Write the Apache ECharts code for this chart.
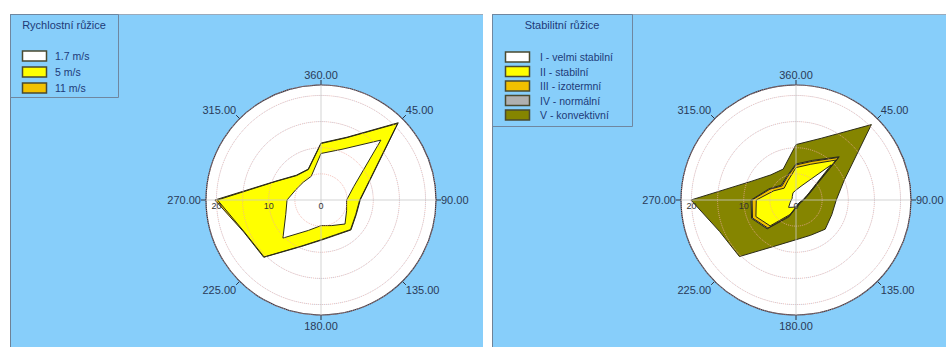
<!DOCTYPE html>
<html><head><meta charset="utf-8">
<script src="https://cdn.jsdelivr.net/npm/echarts@6/dist/echarts.min.js"></script>
<style>
html,body{margin:0;padding:0;background:#fff;width:946px;height:347px;overflow:hidden}
.panel{position:absolute;background:#87CEFA;box-sizing:border-box;border-left:1px solid #6f8296;border-top:1px solid #9aaabb}
#p1{left:10px;top:14px;width:473px;height:333px}
#p2{left:492px;top:14px;width:454px;height:333px}
#chart{position:absolute;left:0;top:0;width:946px;height:347px}
</style></head><body>
<div class="panel" id="p1"></div><div class="panel" id="p2"></div>
<div id="chart"></div>
<script>
// ---- data ----
const directions = [0,22.5,45,67.5,90,112.5,135,157.5,180,202.5,225,247.5,270,292.5,315,337.5];
const angleTickLabels = ['360.00','45.00','90.00','135.00','180.00','225.00','270.00','315.00'];
const radiusTickLabels = ['0','10','20'];

const speedTitle = 'Rychlostní růžice';
const speedNames = ['1.7 m/s','5 m/s','11 m/s'];
const speed17 = [8.9,10.5,16.2,6.8,4.9,5.3,6.5,5.3,4.9,6.3,10.3,7.3,6.5,5.2,4.8,4.9];
const speed5  = [10.8,12.9,20.7,10.1,7.4,7.2,8.0,7.2,7.6,9.5,15.4,15.9,19.8,9.3,6.6,6.3];
const speed11 = [10.9,13.0,20.9,10.2,7.5,7.3,8.1,7.3,7.7,9.6,15.5,16.0,20.3,9.4,6.7,6.4];

const stabTitle = 'Stabilitní růžice';
const stabNames = ['I - velmi stabilní','II - stabilní','III - izotermní','IV - normální','V - konvektivní'];
const stabI   = [1.9,3.0,9.5,2.3,1.3,0.9,0.8,0.9,1.3,1.5,2.0,1.2,0.9,0.8,1.0,1.5];
const stabII  = [6.2,7.4,10.8,2.35,1.35,0.95,0.85,1.05,1.35,3.0,7.0,8.3,7.6,4.6,3.2,4.0];
const stabIII = [6.7,8.0,11.5,2.4,1.4,1.0,0.9,1.1,1.4,3.3,7.6,9.0,8.4,5.4,3.8,4.6];
const stabIV  = [6.9,8.2,11.7,2.6,1.5,1.1,1.0,1.2,1.5,3.5,7.8,9.2,8.6,5.6,4.0,4.8];
const stabV   = [10.6,12.8,20.4,10.0,7.7,7.4,7.9,7.3,7.6,9.4,15.3,15.8,20.1,9.3,6.8,6.4];

// ---- styles ----
const FONT = 'Liberation Sans, Arial, sans-serif';
const speedColors = ['#ffffff','#ffff00','#f2c200'];
const stabColors = ['#ffffff','#ffff00','#f0c000','#b0b0b0','#858500'];
const RMAX = 22;
const centers = [[321,200],[796,200]];
const R = 115;

function closed(vals){
  const d = directions.map((a,i)=>[vals[i], a]);
  d.push([vals[0], 360]);
  return d;
}
function mkSeries(vals, color, polarIndex, name){
  return {type:'line', name, coordinateSystem:'polar', polarIndex, data:closed(vals),
    symbol:'none', silent:true, animation:false, z:2,
    lineStyle:{color:'#2b2b18', width:1},
    itemStyle:{color}, areaStyle:{color, opacity:1}};
}

const polar = [], angleAxis = [], radiusAxis = [];
centers.forEach((c,k)=>{
  polar.push({center:c, radius:R});
  angleAxis.push({polarIndex:2*k, type:'value', min:0, max:360, interval:45, startAngle:90, clockwise:true, z:1,
    axisLine:{show:true, lineStyle:{color:'#2d3340', width:1.2}},
    axisTick:{show:true, length:5, lineStyle:{color:'#2d3340'}},
    axisLabel:{show:true, margin:5, fontSize:11, fontFamily:FONT, color:'#2a3a58',
      formatter:v=>angleTickLabels[Math.round(v/45)%8]},
    splitLine:{show:false}});
  radiusAxis.push({polarIndex:2*k, type:'value', min:0, max:RMAX, interval:5, z:0,
    axisLine:{show:false}, axisTick:{show:false}, axisLabel:{show:false}, splitLine:{show:false},
    splitArea:{show:true, areaStyle:{color:['#ffffff','#ffffff']}}});
  polar.push({center:c, radius:R});
  angleAxis.push({polarIndex:2*k+1, type:'value', min:0, max:360, interval:90, startAngle:180, clockwise:true, z:3,
    axisLine:{show:false}, axisTick:{show:false}, axisLabel:{show:false},
    splitLine:{show:true, lineStyle:{color:'rgba(200,200,200,0.8)', width:1}}});
  radiusAxis.push({polarIndex:2*k+1, type:'value', min:0, max:RMAX, interval:5, z:3,
    axisLine:{show:false}, axisTick:{show:false},
    axisLabel:{show:true, margin:1, fontSize:9, fontFamily:FONT, color:'#333',
      formatter:v=> (v%10===0 && v/10 < radiusTickLabels.length) ? radiusTickLabels[v/10] : ''},
    splitLine:{show:true, lineStyle:{color:'rgba(240,170,160,0.8)', type:'dotted', width:1}}});
});

const series = [
  mkSeries(speed11, speedColors[2], 0, speedNames[2]),
  mkSeries(speed5, speedColors[1], 0, speedNames[1]),
  mkSeries(speed17, speedColors[0], 0, speedNames[0]),
  mkSeries(stabV, stabColors[4], 2, stabNames[4]),
  mkSeries(stabIV, stabColors[3], 2, stabNames[3]),
  mkSeries(stabIII, stabColors[2], 2, stabNames[2]),
  mkSeries(stabII, stabColors[1], 2, stabNames[1]),
  mkSeries(stabI, stabColors[0], 2, stabNames[0])
];

// ---- legends (graphic) ----
const TXT = '#203a78';
function legend(x, y, w, h, title, names, colors, swX, txtX, firstY, step){
  const els = [{type:'rect', shape:{x:x+0.5,y:y+0.5,width:w,height:h}, style:{fill:'none', stroke:'#6f87a0', lineWidth:1}, z:10},
    {type:'text', x:x+w/2, y:y+11, style:{text:title, fill:TXT, font:'11px '+FONT, textAlign:'center', textVerticalAlign:'middle'}, z:10}];
  names.forEach((n,i)=>{
    const cy = firstY + i*step;
    els.push({type:'rect', shape:{x:swX, y:cy-5, width:24, height:10}, style:{fill:colors[i], stroke:'#4a4a30', lineWidth:1.5}, z:10});
    els.push({type:'text', x:txtX, y:cy, style:{text:n, fill:TXT, font:'10.5px '+FONT, textVerticalAlign:'middle'}, z:10});
  });
  return els;
}
const graphicEls = [].concat(
  legend(10, 14, 108, 83, speedTitle, speedNames, speedColors, 22.5, 55, 56, 16),
  legend(492, 14, 140, 112, stabTitle, stabNames, stabColors, 505.5, 540, 57, 14.5)
);

const chart = echarts.init(document.getElementById('chart'), null, {renderer:'svg'});
chart.setOption({
  backgroundColor:'transparent',
  animation:false,
  polar, angleAxis, radiusAxis, series,
  graphic:{elements:graphicEls}
});
</script>
</body></html>
